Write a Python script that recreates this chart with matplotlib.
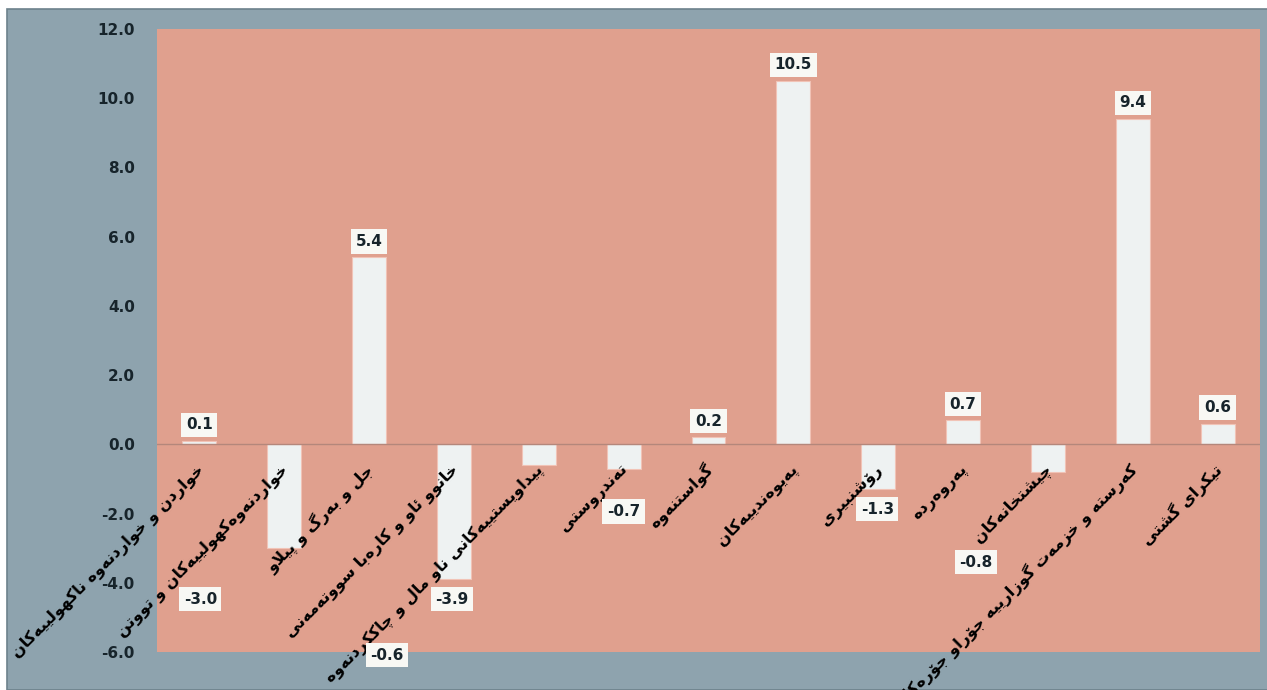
import matplotlib
matplotlib.use("Agg")
import matplotlib.pyplot as plt
import matplotlib.patheffects as pe
from matplotlib import font_manager
from matplotlib.ft2font import FT2Font
from matplotlib.patches import Rectangle

CATEGORIES = [
    "خواردن و خواردنەوە ناکهولییەکان",
    "خواردنەوەکهولییەکان و تووتن",
    "جل و بەرگ و پێڵاو",
    "خانوو ئاو و کارەبا سووتەمەنی",
    "پێداویستییەکانی ناو ماڵ و چاککردنەوە",
    "تەندروستی",
    "گواستنەوە",
    "پەیوەندییەکان",
    "رۆشنبیری",
    "پەروەردە",
    "چێشتخانەکان",
    "کەرستە و خزمەت گوزارییە جۆراو جۆرەکان",
    "تێکرای گشتی",
]
VALUES = [0.1, -3.0, 5.4, -3.9, -0.6, -0.7, 0.2, 10.5, -1.3, 0.7, -0.8, 9.4, 0.6]
Y_TICKS = [-6, -4, -2, 0, 2, 4, 6, 8, 10, 12]

# where each value label sits, in pixels from the bar end (some were dragged by hand)
LABEL_OFFSET = [(0, 16), (-84, -51), (0, 16), (-2, -20), (-152, -190), (0, -43),
                (0, 16), (0, 16), (-1, -20), (0, 16), (-72, -90), (0, 16), (0, 16)]

OUTER = "#8ea3ae"
PLOT_BG = "#e0a08e"
BAR = "#eef2f2"
TEXT = "#17242b"

# matplotlib does no arabic shaping, so pick presentation forms by hand
# (isolated, final, initial, medial)
FORMS = {
    "ا": (0xFE8D, 0xFE8E, None, None),
    "ئ": (0xFE89, 0xFE8A, 0xFE8B, 0xFE8C),
    "ب": (0xFE8F, 0xFE90, 0xFE91, 0xFE92),
    "ت": (0xFE95, 0xFE96, 0xFE97, 0xFE98),
    "ج": (0xFE9D, 0xFE9E, 0xFE9F, 0xFEA0),
    "خ": (0xFEA5, 0xFEA6, 0xFEA7, 0xFEA8),
    "د": (0xFEA9, 0xFEAA, None, None),
    "ر": (0xFEAD, 0xFEAE, None, None),
    "ز": (0xFEAF, 0xFEB0, None, None),
    "س": (0xFEB1, 0xFEB2, 0xFEB3, 0xFEB4),
    "ش": (0xFEB5, 0xFEB6, 0xFEB7, 0xFEB8),
    "ل": (0xFEDD, 0xFEDE, 0xFEDF, 0xFEE0),
    "م": (0xFEE1, 0xFEE2, 0xFEE3, 0xFEE4),
    "ن": (0xFEE5, 0xFEE6, 0xFEE7, 0xFEE8),
    "ه": (0xFEE9, 0xFEEA, 0xFEEB, 0xFEEC),
    "ە": (0xFEE9, 0xFEEA, None, None),
    "و": (0xFEED, 0xFEEE, None, None),
    "ۆ": (0xFBD9, 0xFBDA, None, None),
    "پ": (0xFB56, 0xFB57, 0xFB58, 0xFB59),
    "چ": (0xFB7A, 0xFB7B, 0xFB7C, 0xFB7D),
    "ک": (0xFB8E, 0xFB8F, 0xFB90, 0xFB91),
    "گ": (0xFB92, 0xFB93, 0xFB94, 0xFB95),
    "ی": (0xFBFC, 0xFBFD, 0xFBFE, 0xFBFF),
}
FORMS["ڕ"] = FORMS["ر"]
FORMS["ڵ"] = FORMS["ل"]
FORMS["ێ"] = FORMS["ی"]


def pick_font():
    for weight in ("bold", "normal"):
        path = font_manager.findfont(font_manager.FontProperties(family="DejaVu Sans", weight=weight))
        cmap = FT2Font(path).get_charmap()
        if 0xFEE9 in cmap:
            return weight, cmap
    return "bold", cmap


LABEL_WEIGHT, CMAP = pick_font()
if 0xFBD9 not in CMAP:
    FORMS["ۆ"] = FORMS["و"]


def dual(c):
    return c in FORMS and FORMS[c][2] is not None


def shape(text):
    out = []
    i = 0
    while i < len(text):
        c = text[i]
        if c not in FORMS:
            out.append(c)
            i += 1
            continue
        p = i > 0 and dual(text[i - 1])
        nxt = text[i + 1] if i + 1 < len(text) else ""
        if c in "لڵ" and nxt == "ا":
            out.append(chr(0xFEFC if p else 0xFEFB))
            i += 2
            continue
        q = dual(c) and nxt in FORMS
        iso, fin, ini, med = FORMS[c]
        code = med if (p and q) else fin if p else ini if q else iso
        out.append(chr(code))
        i += 1
    return "".join(reversed(out))


W, H = 1267, 690
fig = plt.figure(figsize=(W / 100, H / 100), dpi=100, facecolor="white")
fig.patches.append(Rectangle((7 / W, 0), 1, 681 / H, transform=fig.transFigure,
                             facecolor=OUTER, edgecolor="#6d828c", lw=1.2, zorder=-10))

ax = fig.add_axes([157 / W, 1 - 652 / H, (1260 - 157) / W, (652 - 29) / H])
ax.set_facecolor(PLOT_BG)

x = list(range(len(VALUES)))
ax.bar(x, VALUES, width=0.4, color=BAR, edgecolor="#f1c3b6", lw=0.8, zorder=2)
ax.axhline(0, color="#b4877b", lw=1.0, zorder=3)

ax.set_xlim(-0.5, len(VALUES) - 0.5)
ax.set_ylim(-6, 12)
ax.set_yticks(Y_TICKS)
ax.set_yticklabels([f"{t:.1f}" for t in Y_TICKS], fontsize=11, fontweight="bold", color=TEXT)
ax.tick_params(axis="y", length=0, pad=16)
ax.set_xticks([])
for spine in ax.spines.values():
    spine.set_visible(False)

# category names hang from the zero line, tilted like the original
heavy = [] if LABEL_WEIGHT == "bold" else [pe.withStroke(linewidth=1.6, foreground="black")]
for xi, name in zip(x, CATEGORIES):
    ax.annotate(shape(name), (xi, 0), xytext=(2, -23), textcoords="offset pixels",
                rotation=45, ha="right", va="center", rotation_mode="anchor",
                fontsize=11.5, fontweight=LABEL_WEIGHT, family="DejaVu Sans",
                color="black", annotation_clip=False, zorder=5, path_effects=heavy)

for xi, v, (dx, dy) in zip(x, VALUES, LABEL_OFFSET):
    ax.annotate(f"{v:.1f}", (xi, v), xytext=(dx, dy), textcoords="offset pixels",
                ha="center", va="center", fontsize=11, fontweight="bold", color=TEXT,
                annotation_clip=False, zorder=6,
                bbox=dict(boxstyle="square,pad=0.3", facecolor="#f8f8f4", edgecolor="none"))

fig.savefig("out.png", dpi=100, facecolor=fig.get_facecolor())
